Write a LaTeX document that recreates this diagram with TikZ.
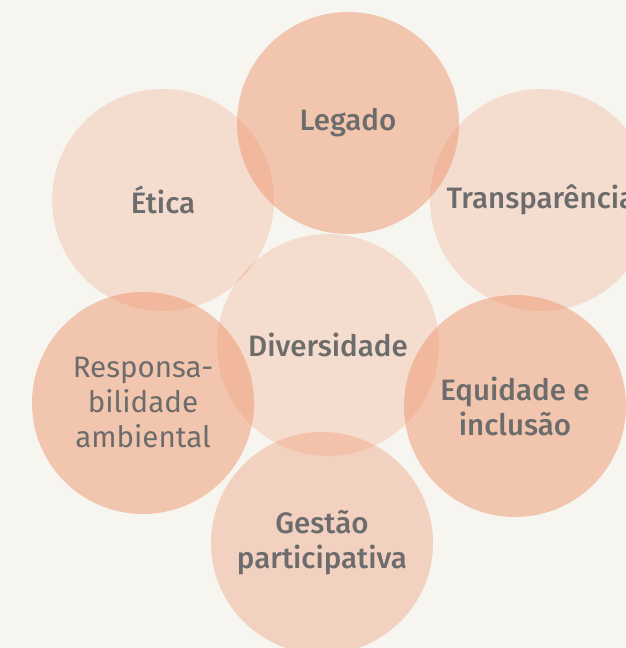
\documentclass[tikz,border=0pt]{standalone}
\usepackage{fontspec}
\setmainfont{Fira Sans}
\newfontfamily\mediumfont{Fira Sans Medium}
\newfontfamily\plainfont{Fira Sans}
\usepackage{tikz}
\definecolor{paper}{RGB}{246,245,240}
\definecolor{salmon}{RGB}{240,150,110}
\definecolor{ink}{RGB}{108,108,108}

\begin{document}
\begin{tikzpicture}[x=1pt,y=-1pt,
  value/.style={circle,minimum size=222pt,inner sep=0pt,fill=salmon,text opacity=1,
    text=ink,align=center,font=\mediumfont\fontsize{29.5}{35}\selectfont},
  strong/.style={value,fill opacity=0.5},
  soft/.style={value,fill opacity=0.26},
  mid/.style={value,fill opacity=0.37}]
  \fill[paper] (0,0) rectangle (626,648);
  \useasboundingbox (0,0) rectangle (626,648);
  \node[soft]   (etica)  at (163,200) {Ética};
  \node[soft]   (transp) at (541,200) {Transparência};
  \node[soft]   (divers) at (328,345) {Diversidade};
  \node[strong] (legado) at (348,123) {Legado};
  \node[strong,font=\plainfont\fontsize{29.5}{35}\selectfont] (respon) at (143,403)
    {Responsa-\\bilidade\\ambiental};
  \node[strong] (equid)  at (515,406) {Equidade e\\inclusão};
  \node[mid]    (gestao) at (322,543) {Gestão\\participativa};
\end{tikzpicture}
\end{document}
